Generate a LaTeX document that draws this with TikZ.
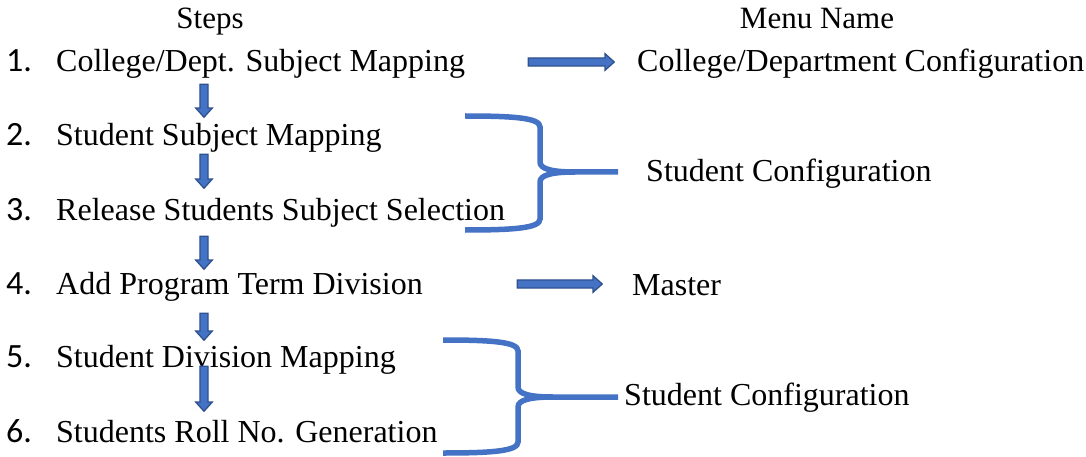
\documentclass[tikz,border=0pt]{standalone}
\usepackage{fontspec}
\setmainfont{Liberation Serif}
\newfontfamily\numfont{Carlito}
\usetikzlibrary{shapes.arrows}

\definecolor{arrowfill}{HTML}{4472C4}
\definecolor{arrowline}{HTML}{2F528F}
\definecolor{bracecol}{HTML}{4472C4}

\tikzset{
  txt/.style={inner sep=0pt, anchor=base west, font=\fontsize{32}{38}\selectfont},
  num/.style={inner sep=0pt, anchor=base west, font=\numfont\fontsize{34}{38}\selectfont},
  title/.style={inner sep=0pt, anchor=base, font=\fontsize{31}{38}\selectfont},
  blockarrow/.style={single arrow, draw=arrowline, fill=arrowfill, line width=1.3pt,
    inner sep=0pt, inner ysep=3.4pt, single arrow head extend=4.2pt,
    single arrow tip angle=84, minimum height=#1},
  downarrow/.style={blockarrow=#1, rotate=-90},
  brace/.style={draw=bracecol, line width=5.5pt}
}

\begin{document}
\begin{tikzpicture}[x=1pt, y=-1pt]
\useasboundingbox (0,0) rectangle (1086,457);
% Titles
\node[title] (tsteps) at (210,29) {Steps};
\node[title] (tmenu) at (817,29) {Menu Name};
% Steps
\node[num] (n1) at (6,72) {1.};
\node[num] (n2) at (6,146) {2.};
\node[num] (n3) at (6,220) {3.};
\node[num] (n4) at (6,294) {4.};
\node[num] (n5) at (6,367) {5.};
\node[num] (n6) at (6,442) {6.};
\node[txt] (s1) at (56,72) {College/Dept. Subject Mapping};
\node[txt] (s2) at (56,146) {Student Subject Mapping};
\node[txt] (s3) at (56,220) {Release Students Subject Selection};
\node[txt] (s4) at (56,294) {Add Program Term Division};
\node[txt] (s5) at (56,367) {Student Division Mapping};
\node[txt] (s6) at (56,442) {Students Roll No. Generation};
% Down arrows
\node[downarrow=33pt] (d1) at (204,98.5) {};
\node[downarrow=34pt] (d2) at (204,169) {};
\node[downarrow=33pt] (d3) at (204,250.5) {};
\node[downarrow=27pt] (d4) at (204,324.5) {};
\node[downarrow=45pt] (d5) at (204,386.5) {};
% Menu names
\node[txt] (m1) at (637,72) {College/Department Configuration};
\node[txt] (m23) at (646,182) {Student Configuration};
\node[txt] (m4) at (632,295) {Master};
\node[txt] (m56) at (624,405) {Student Configuration};
% Right arrows
\node[blockarrow=86pt] (r1) at (569,62) {};
\node[blockarrow=85pt] (r4) at (557.5,284) {};
% Braces
\coordinate (b1) at (618,172);
\coordinate (b2) at (618,397);
\draw[brace] (465,116) .. controls (515,116) and (540,118) .. (540,127) -- (540,162)
  .. controls (540,169) and (552,172) .. (575,172) -- (b1);
\draw[brace] (465,230) .. controls (515,230) and (540,228) .. (540,219) -- (540,182)
  .. controls (540,175) and (552,172) .. (575,172);
\draw[brace] (443,340) .. controls (493,340) and (518,342) .. (518,351) -- (518,387)
  .. controls (518,394) and (530,397) .. (553,397) -- (b2);
\draw[brace] (443,453) .. controls (493,453) and (518,451) .. (518,442) -- (518,407)
  .. controls (518,400) and (530,397) .. (553,397);
\end{tikzpicture}
\end{document}
